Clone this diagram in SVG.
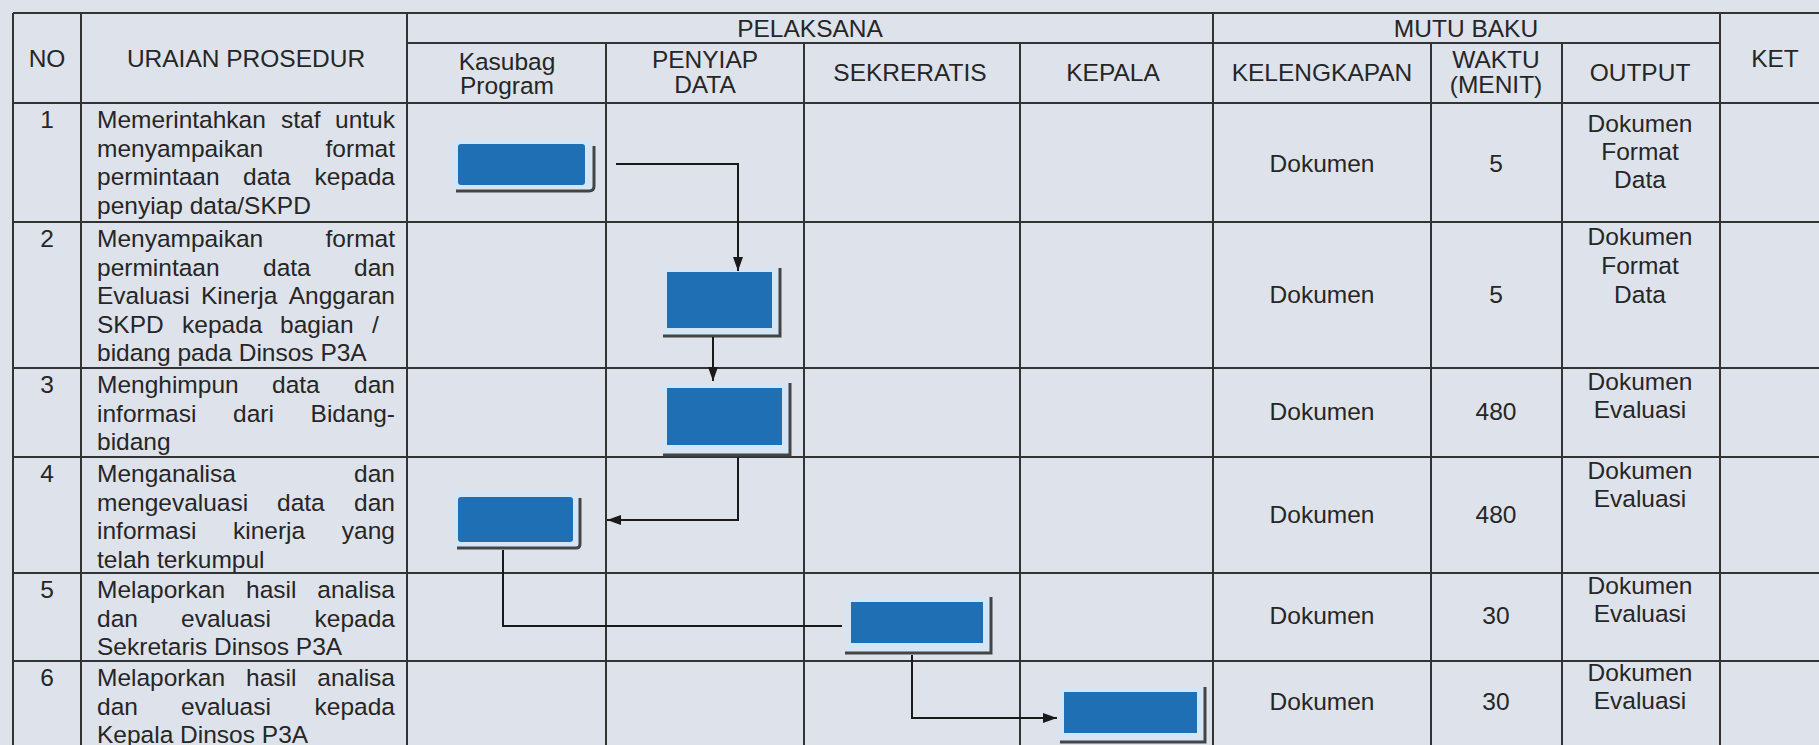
<svg xmlns="http://www.w3.org/2000/svg" width="1819" height="745" viewBox="0 0 1819 745">
<style>
.t{font-family:"Liberation Sans",Arial,sans-serif;font-size:24.5px;fill:#262626}
.c{text-anchor:middle}
.e{text-anchor:end}
.grid line{stroke:#333;stroke-width:2}
.blue{fill:#1f6fb5}
.frame{fill:#d4e5f6}
.shadow{fill:none;stroke:#444;stroke-width:3}
.conn path{fill:none;stroke:#1a1a1a;stroke-width:2}
</style>
<defs>
<marker id="arr" viewBox="0 0 14 10" refX="14" refY="5" markerWidth="14" markerHeight="10" markerUnits="userSpaceOnUse" orient="auto">
<path d="M0,0 L14,5 L0,10 z" fill="#1a1a1a"/>
</marker>
</defs>
<rect width="1819" height="745" fill="#dee2ea"/>
<g id="table" class="grid">
<line x1="13" y1="13" x2="1819" y2="13"/>
<line x1="407" y1="43" x2="1720" y2="43"/>
<line x1="13" y1="103" x2="1819" y2="103"/>
<line x1="13" y1="222" x2="1819" y2="222"/>
<line x1="13" y1="368" x2="1819" y2="368"/>
<line x1="13" y1="457" x2="1819" y2="457"/>
<line x1="13" y1="573" x2="1819" y2="573"/>
<line x1="13" y1="661" x2="1819" y2="661"/>
<line x1="13" y1="13" x2="13" y2="745"/>
<line x1="81" y1="13" x2="81" y2="745"/>
<line x1="407" y1="13" x2="407" y2="745"/>
<line x1="606" y1="43" x2="606" y2="745"/>
<line x1="804" y1="43" x2="804" y2="745"/>
<line x1="1020" y1="43" x2="1020" y2="745"/>
<line x1="1213" y1="13" x2="1213" y2="745"/>
<line x1="1431" y1="43" x2="1431" y2="745"/>
<line x1="1562" y1="43" x2="1562" y2="745"/>
<line x1="1720" y1="13" x2="1720" y2="745"/>
</g>
<g id="header" class="t">
<text class="c" x="47" y="67">NO</text>
<text class="c" x="246" y="67">URAIAN PROSEDUR</text>
<text class="c" x="810" y="37">PELAKSANA</text>
<text class="c" x="1466" y="37">MUTU BAKU</text>
<text class="c" x="507" y="70">Kasubag</text>
<text class="c" x="507" y="94">Program</text>
<text class="c" x="705" y="68">PENYIAP</text>
<text class="c" x="705" y="93">DATA</text>
<text class="c" x="910" y="81">SEKRERATIS</text>
<text class="c" x="1113" y="81">KEPALA</text>
<text class="c" x="1322" y="81">KELENGKAPAN</text>
<text class="c" x="1496" y="68">WAKTU</text>
<text class="c" x="1496" y="93">(MENIT)</text>
<text class="c" x="1640" y="81">OUTPUT</text>
<text class="c" x="1775" y="67">KET</text>
</g>
<g id="row1" class="t">
<text class="c" x="47" y="128">1</text>
<text x="97" y="128">Memerintahkan</text><text x="281" y="128">staf</text><text class="e" x="395" y="128">untuk</text>
<text x="97" y="156.5">menyampaikan</text><text class="e" x="395" y="156.5">format</text>
<text x="97" y="185">permintaan</text><text x="243" y="185">data</text><text class="e" x="395" y="185">kepada</text>
<text x="97" y="213.5">penyiap data/SKPD</text>
<text class="c" x="1322" y="172">Dokumen</text>
<text class="c" x="1496" y="172">5</text>
<text class="c" x="1640" y="132">Dokumen</text>
<text class="c" x="1640" y="160">Format</text>
<text class="c" x="1640" y="188">Data</text>
</g>
<g id="row2" class="t">
<text class="c" x="47" y="247">2</text>
<text x="97" y="247">Menyampaikan</text><text class="e" x="395" y="247">format</text>
<text x="97" y="275.5">permintaan</text><text x="263" y="275.5">data</text><text class="e" x="395" y="275.5">dan</text>
<text x="97" y="304">Evaluasi</text><text x="201" y="304">Kinerja</text><text class="e" x="395" y="304">Anggaran</text>
<text x="97" y="332.5">SKPD</text><text x="182" y="332.5">kepada</text><text x="280" y="332.5">bagian</text><text x="372" y="332.5">/</text>
<text x="97" y="361">bidang pada Dinsos P3A</text>
<text class="c" x="1322" y="303">Dokumen</text>
<text class="c" x="1496" y="303">5</text>
<text class="c" x="1640" y="245">Dokumen</text>
<text class="c" x="1640" y="274">Format</text>
<text class="c" x="1640" y="303">Data</text>
</g>
<g id="row3" class="t">
<text class="c" x="47" y="393">3</text>
<text x="97" y="393">Menghimpun</text><text x="272" y="393">data</text><text class="e" x="395" y="393">dan</text>
<text x="97" y="421.5">informasi</text><text x="233" y="421.5">dari</text><text class="e" x="395" y="421.5">Bidang-</text>
<text x="97" y="450">bidang</text>
<text class="c" x="1322" y="420">Dokumen</text>
<text class="c" x="1496" y="420">480</text>
<text class="c" x="1640" y="390">Dokumen</text>
<text class="c" x="1640" y="418">Evaluasi</text>
</g>
<g id="row4" class="t">
<text class="c" x="47" y="482">4</text>
<text x="97" y="482">Menganalisa</text><text class="e" x="395" y="482">dan</text>
<text x="97" y="510.5">mengevaluasi</text><text x="277" y="510.5">data</text><text class="e" x="395" y="510.5">dan</text>
<text x="97" y="539">informasi</text><text x="233" y="539">kinerja</text><text class="e" x="395" y="539">yang</text>
<text x="97" y="567.5">telah terkumpul</text>
<text class="c" x="1322" y="523">Dokumen</text>
<text class="c" x="1496" y="523">480</text>
<text class="c" x="1640" y="479">Dokumen</text>
<text class="c" x="1640" y="507">Evaluasi</text>
</g>
<g id="row5" class="t">
<text class="c" x="47" y="598">5</text>
<text x="97" y="598">Melaporkan</text><text x="246" y="598">hasil</text><text class="e" x="395" y="598">analisa</text>
<text x="97" y="626.5">dan</text><text x="181" y="626.5">evaluasi</text><text class="e" x="395" y="626.5">kepada</text>
<text x="97" y="655">Sekretaris Dinsos P3A</text>
<text class="c" x="1322" y="624">Dokumen</text>
<text class="c" x="1496" y="624">30</text>
<text class="c" x="1640" y="594">Dokumen</text>
<text class="c" x="1640" y="622">Evaluasi</text>
</g>
<g id="row6" class="t">
<text class="c" x="47" y="686">6</text>
<text x="97" y="686">Melaporkan</text><text x="246" y="686">hasil</text><text class="e" x="395" y="686">analisa</text>
<text x="97" y="714.5">dan</text><text x="181" y="714.5">evaluasi</text><text class="e" x="395" y="714.5">kepada</text>
<text x="97" y="743">Kepala Dinsos P3A</text>
<text class="c" x="1322" y="710">Dokumen</text>
<text class="c" x="1496" y="710">30</text>
<text class="c" x="1640" y="681">Dokumen</text>
<text class="c" x="1640" y="709">Evaluasi</text>
</g>
<g id="node1">
<rect class="frame" x="452" y="140" width="143" height="53" rx="7"/>
<rect class="blue" x="458" y="144" width="127" height="41" rx="3"/>
<path class="shadow" d="M456,191 H589 Q594,191 594,186 V146"/>
</g>
<g id="node2">
<rect class="frame" x="664" y="269" width="116" height="68"/>
<rect class="blue" x="667" y="272" width="105" height="56"/>
<path class="shadow" d="M663,336 H780 V268"/>
</g>
<g id="node3">
<rect class="frame" x="663" y="384" width="127" height="71"/>
<rect class="blue" x="667" y="388" width="115" height="57"/>
<path class="shadow" d="M663,455 H790 V383"/>
</g>
<g id="node4">
<rect class="frame" x="454" y="492" width="127" height="58" rx="7"/>
<rect class="blue" x="458" y="497" width="115" height="45" rx="3"/>
<path class="shadow" d="M457,548 H576 Q580,548 580,544 V498"/>
</g>
<g id="node5">
<rect class="frame" x="846" y="597" width="145" height="57"/>
<rect class="blue" x="851" y="602" width="132" height="41"/>
<path class="shadow" d="M845,653 H991 V597"/>
</g>
<g id="node6">
<rect class="frame" x="1060" y="687" width="145" height="55"/>
<rect class="blue" x="1064" y="692" width="133" height="41"/>
<path class="shadow" d="M1060,742 H1205 V687"/>
</g>
<g id="connectors" class="conn">
<path d="M616,164 H738 V271" marker-end="url(#arr)"/>
<path d="M713,337 V381" marker-end="url(#arr)"/>
<path d="M738,457 V520 H607" marker-end="url(#arr)"/>
<path d="M503,550 V626 H842"/>
<path d="M912,655 V718 H1057" marker-end="url(#arr)"/>
</g>
</svg>
